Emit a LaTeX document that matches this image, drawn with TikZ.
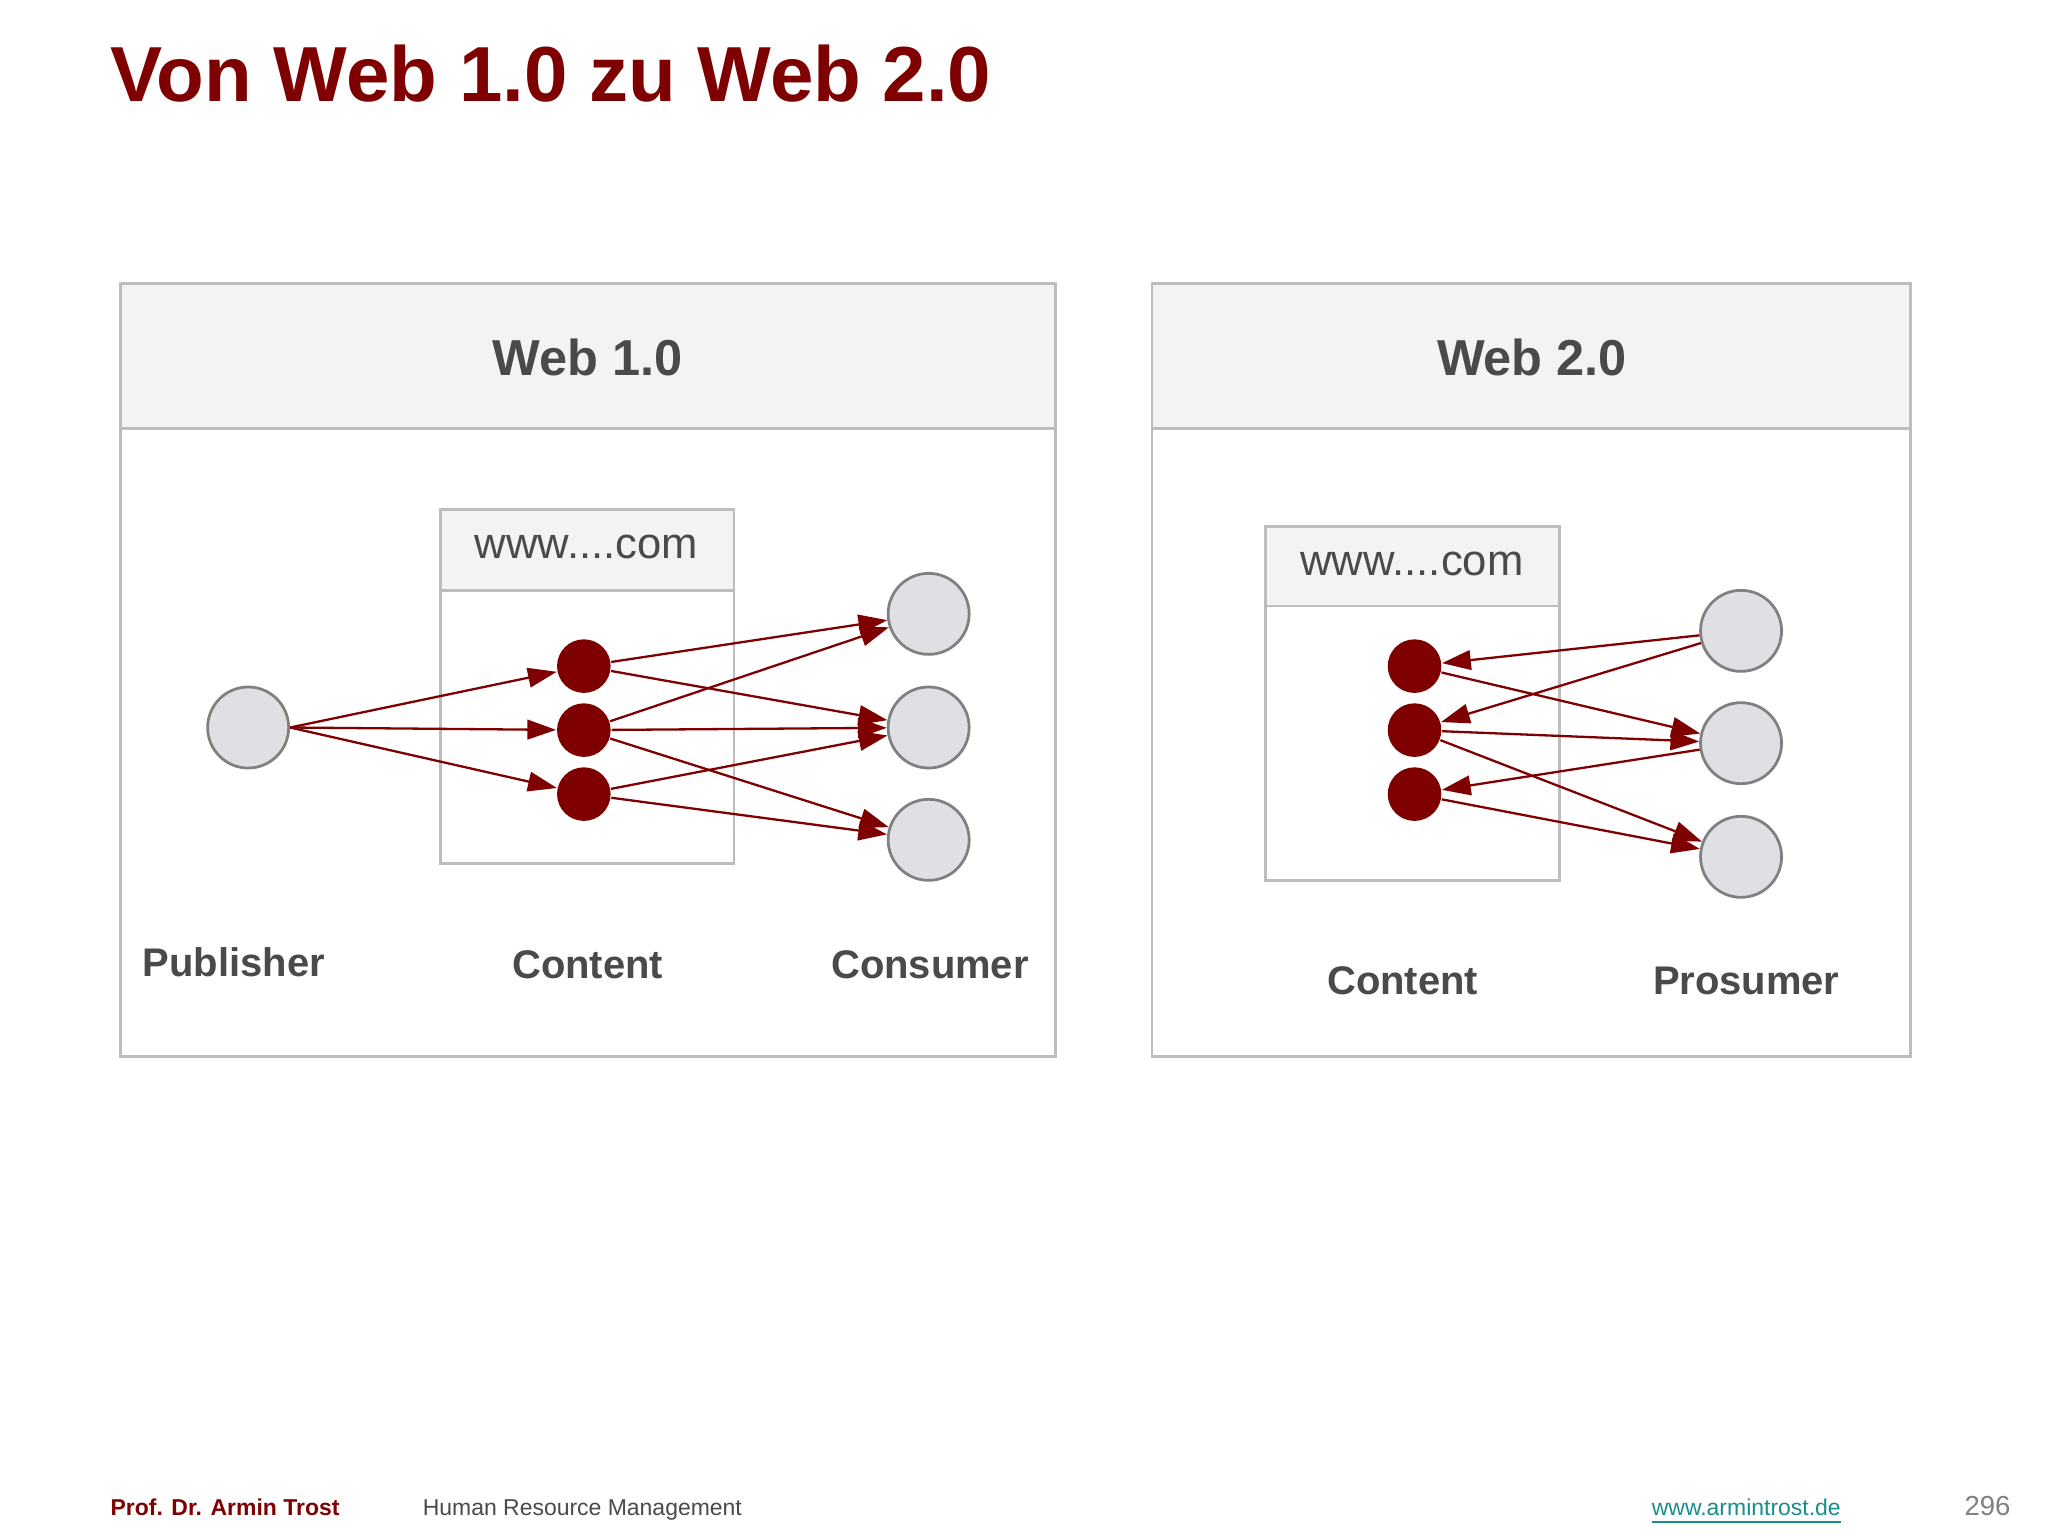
\documentclass[tikz,border=0pt]{standalone}
\usepackage{fontspec}
\setmainfont{Liberation Sans}
\usetikzlibrary{arrows.meta}
\definecolor{darkred}{HTML}{7E0000}
\definecolor{headgray}{HTML}{F3F2F5}
\definecolor{linegray}{HTML}{BDBDBD}
\definecolor{dotgray}{HTML}{E0DFE3}
\definecolor{textgray}{HTML}{4A4A4A}
\definecolor{linkteal}{HTML}{1A8C8C}
\tikzset{
  frame/.style={draw=linegray, line width=0.6pt},
  head/.style={frame, fill=headgray},
  person/.style={circle, draw=gray, fill=dotgray, line width=0.6pt, minimum size=0.62cm, inner sep=0pt},
  item/.style={circle, fill=darkred, minimum size=0.41cm, inner sep=0pt},
  flow/.style={draw=darkred, line width=0.5pt, -{Triangle[length=0.22cm,width=0.15cm]}},
  label/.style={font=\fontsize{8.7}{10}\selectfont\bfseries, text=textgray},
}
\begin{document}
\begin{tikzpicture}[x=0.01cm, y=-0.01cm]
\useasboundingbox (0,0) rectangle (1568,1176);
\fill[white] (0,0) rectangle (1568,1176);

% title
\node[anchor=base west, inner sep=0pt, text=darkred, font=\fontsize{17}{19}\selectfont\bfseries] (title) at (84,78) {Von Web 1.0 zu Web 2.0};

% frames
\draw[frame] (92,217) rectangle (808,809);
\draw[head] (92,217) rectangle (808,328);
\draw[frame] (882,217) rectangle (1463,809);
\draw[head] (882,217) rectangle (1463,328);
\node[font=\fontsize{11}{12}\selectfont\bfseries, text=textgray] (h1) at (450,274) {Web 1.0};
\node[font=\fontsize{11}{12}\selectfont\bfseries, text=textgray] (h2) at (1173,274) {Web 2.0};

% sites
\draw[frame] (337,390) rectangle (562,661);
\draw[head] (337,390) rectangle (562,452);
\node[font=\fontsize{9.5}{11}\selectfont, text=textgray] (site1) at (449,419) {www....com};
\draw[frame] (969,403) rectangle (1194,674);
\draw[head] (969,403) rectangle (1194,464);
\node[font=\fontsize{9.5}{11}\selectfont, text=textgray] (site2) at (1081,432) {www....com};

% Web 1.0
\node[person] (pub) at (190,557) {};
\foreach \n/\y in {1/510,2/559,3/608}
  \node[item] (a\n) at (447,\y) {};
\foreach \n/\y in {1/470,2/557,3/643}
  \node[person] (c\n) at (711,\y) {};
\foreach \n in {1,2,3}
  \draw[flow] (pub.east) -- (a\n);
\foreach \s/\t in {1/1,1/2,2/1,2/2,2/3,3/2,3/3}
  \draw[flow] (a\s) -- (c\t);
\node[label] (lp) at (179,737) {Publisher};
\node[label] (lc) at (450,739) {Content};
\node[label] (lk) at (712,739) {Consumer};

% Web 2.0
\foreach \n/\y in {1/510,2/559,3/608}
  \node[item] (b\n) at (1083,\y) {};
\foreach \n/\y in {1/483,2/569,3/656}
  \node[person] (p\n) at (1333,\y) {};
\foreach \s/\t in {p1/b1,p1/b2,b1/p2,b2/p2,p2/b3,b2/p3,b3/p3}
  \draw[flow] (\s) -- (\t);
\node[label] (lc2) at (1074,751) {Content};
\node[label] (lpr) at (1337,751) {Prosumer};

% footer
\node[anchor=base west, inner sep=0pt, text=darkred, font=\fontsize{5}{6}\selectfont\bfseries] (author) at (84,1160) {Prof. Dr. Armin Trost};
\node[anchor=base west, inner sep=0pt, text=textgray, font=\fontsize{5}{6}\selectfont] (course) at (323,1160) {Human Resource Management};
\node[anchor=base west, inner sep=0pt, text=linkteal, font=\fontsize{5}{6}\selectfont] (link) at (1264,1160) {\underline{www.armintrost.de}};
\node[anchor=base east, inner sep=0pt, text=gray, font=\fontsize{6}{7}\selectfont] (page) at (1540,1160) {296};
\end{tikzpicture}
\end{document}
